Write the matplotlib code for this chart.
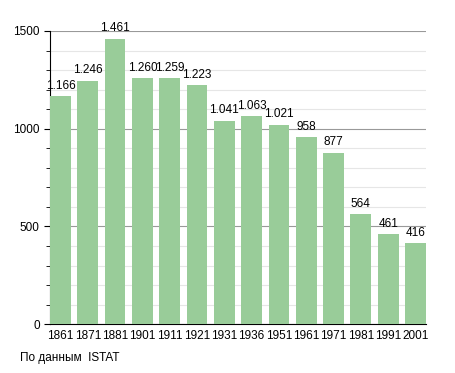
import matplotlib
matplotlib.use("Agg")
import matplotlib.pyplot as plt
from matplotlib.ticker import MultipleLocator

plt.rcParams['font.family'] = ['Liberation Sans', 'DejaVu Sans']

years = ['1861', '1871', '1881', '1901', '1911', '1921', '1931',
         '1936', '1951', '1961', '1971', '1981', '1991', '2001']
population = [1166, 1246, 1461, 1260, 1259, 1223, 1041,
              1063, 1021, 958, 877, 564, 461, 416]


def fmt(v):
    return f"{v:,}".replace(",", ".")


fig = plt.figure(figsize=(4.55, 3.73), dpi=100)
ax = fig.add_axes([0.11, 0.131, 0.826, 0.786])

x = range(len(years))
bars = ax.bar(x, population, width=0.76, color='#99cc99', zorder=3)
for b, v in zip(bars, population):
    ax.text(b.get_x() + b.get_width() / 2, v + 22, fmt(v),
            ha='center', va='bottom', fontsize=8.5, zorder=4)

ax.set_xlim(-0.38, len(years) - 0.62)
ax.set_ylim(0, 1500)
ax.set_xticks(list(x))
ax.set_xticklabels(years, fontsize=8.5)
ax.yaxis.set_major_locator(MultipleLocator(500))
ax.yaxis.set_minor_locator(MultipleLocator(100))
ax.tick_params(axis='y', labelsize=8.5, direction='out', length=4)
ax.tick_params(axis='y', which='minor', length=3)
ax.tick_params(axis='x', length=0, pad=4)

ax.grid(axis='y', which='major', color='#999999', linewidth=0.8, zorder=0)
ax.grid(axis='y', which='minor', color='#e6e6e6', linewidth=0.8, zorder=0)

for s in ['top', 'right']:
    ax.spines[s].set_visible(False)
ax.spines['left'].set_color('black')
ax.spines['bottom'].set_color('black')

fig.text(20 / 455, 1 - 358 / 373, 'По данным  ISTAT', fontsize=8.5, va='center')

fig.savefig('out.png', dpi=100)
